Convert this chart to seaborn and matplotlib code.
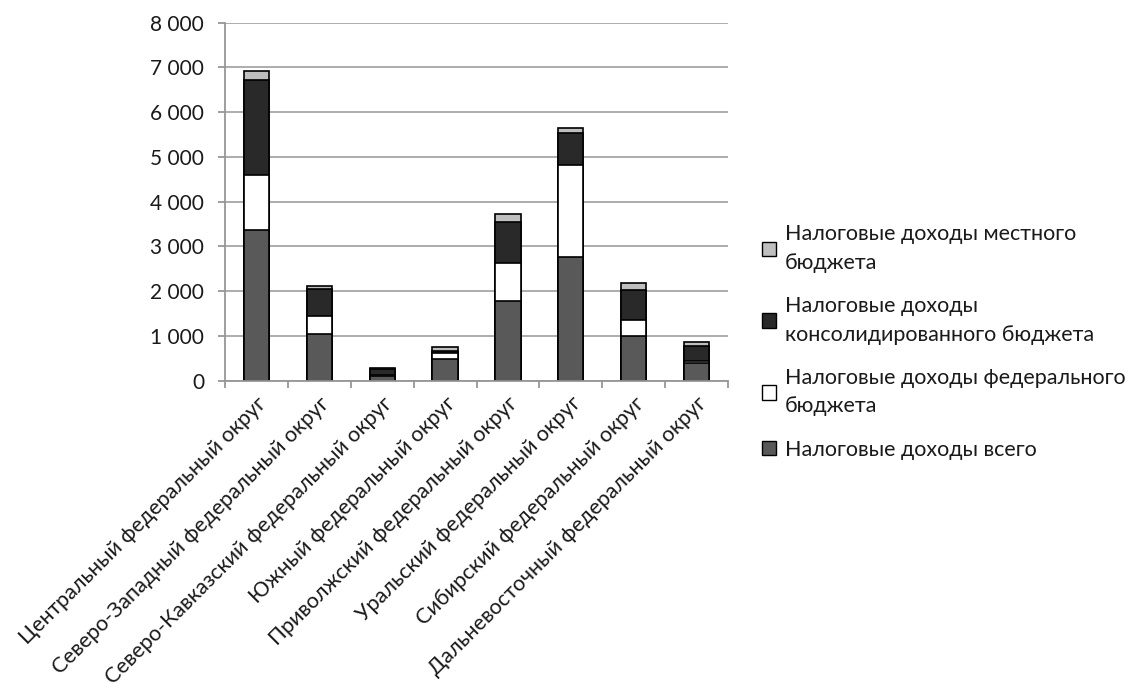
import matplotlib
matplotlib.use("Agg")
import matplotlib.pyplot as plt
import seaborn as sns
import numpy as np
import pandas as pd
from matplotlib.patches import Patch
from matplotlib.ticker import FuncFormatter

categories = [
    "Центральный федеральный округ",
    "Северо-Западный федеральный округ",
    "Северо-Кавказский федеральный округ",
    "Южный федеральный округ",
    "Приволжский федеральный округ",
    "Уральский федеральный округ",
    "Сибирский федеральный округ",
    "Дальневосточный федеральный округ",
]
series_names = [
    "Налоговые доходы всего",
    "Налоговые доходы федерального бюджета",
    "Налоговые доходы консолидированного бюджета",
    "Налоговые доходы местного бюджета",
]
legend_labels = [
    "Налоговые доходы всего",
    "Налоговые доходы федерального\nбюджета",
    "Налоговые доходы\nконсолидированного бюджета",
    "Налоговые доходы местного\nбюджета",
]
total_vals = [3360, 1035, 110, 480, 1775, 2765, 1010, 400]
federal_vals = [1240, 405, 20, 130, 850, 2050, 350, 45]
consolidated_vals = [2125, 610, 130, 50, 920, 715, 660, 330]
local_vals = [185, 75, 15, 90, 170, 120, 160, 80]
y_ticks = [0, 1000, 2000, 3000, 4000, 5000, 6000, 7000, 8000]

colors = ["#595959", "#ffffff", "#292929", "#bfbfbf"]

sns.set_theme(style="white")
plt.rcParams["font.family"] = ["Lato", "DejaVu Sans"]

fig = plt.figure(figsize=(11.3, 6.92), dpi=100)
ax = fig.add_axes([225 / 1130, 1 - 380.7 / 692, (728 - 225) / 1130, (380.7 - 22.7) / 692])

layers = [total_vals, federal_vals, consolidated_vals, local_vals]
cum = np.cumsum(np.array(layers, dtype=float), axis=0)
# draw from top layer down so lower segments overlay upper ones
for i in range(len(layers) - 1, -1, -1):
    df = pd.DataFrame({"cat": categories, "val": cum[i]})
    sns.barplot(data=df, x="cat", y="val", ax=ax, color=colors[i],
                width=0.4, edgecolor="black", linewidth=1.2, saturation=1,
                order=categories)

ax.set_ylim(0, 8000)
ax.set_xlim(-0.5, len(categories) - 0.5)
ax.set_yticks(y_ticks)
ax.yaxis.set_major_formatter(FuncFormatter(lambda v, p: f"{int(v):,}".replace(",", " ")))
ax.grid(axis="y", color="#a6a6a6", linewidth=1.3)
ax.set_axisbelow(True)
ax.set_xlabel("")
ax.set_ylabel("")
for s in ["top", "right"]:
    ax.spines[s].set_visible(False)
for s in ["left", "bottom"]:
    ax.spines[s].set_color("#969696")
    ax.spines[s].set_linewidth(1.3)

ax.tick_params(axis="y", which="major", length=5, width=1.3, color="#969696",
               labelsize=15, labelcolor="#1a1a1a", pad=10, left=True)
ax.set_xticks(np.arange(len(categories)))
ax.set_xticklabels(categories, rotation=45, ha="right", rotation_mode="anchor",
                   fontsize=15.5, color="#1a1a1a")
ax.tick_params(axis="x", which="major", length=0, pad=9)
ax.set_xticks(np.arange(-0.5, len(categories) + 0.5, 1), minor=True)
ax.tick_params(axis="x", which="minor", length=5, width=1.3, color="#969696", bottom=True)

handles = [Patch(facecolor=colors[i], edgecolor="black", linewidth=1.0) for i in range(4)][::-1]
labels = legend_labels[::-1]
leg = fig.legend(handles, labels, loc="upper left", bbox_to_anchor=(762 / 1130, 1 - 224 / 692),
                 frameon=False, fontsize=15.5, handlelength=0.65, handleheight=0.65,
                 handletextpad=0.4, labelspacing=1.07, borderaxespad=0, borderpad=0)
for t in leg.get_texts():
    t.set_color("#1a1a1a")
    t.set_linespacing(1.55)

fig.savefig("out.png", dpi=100)
